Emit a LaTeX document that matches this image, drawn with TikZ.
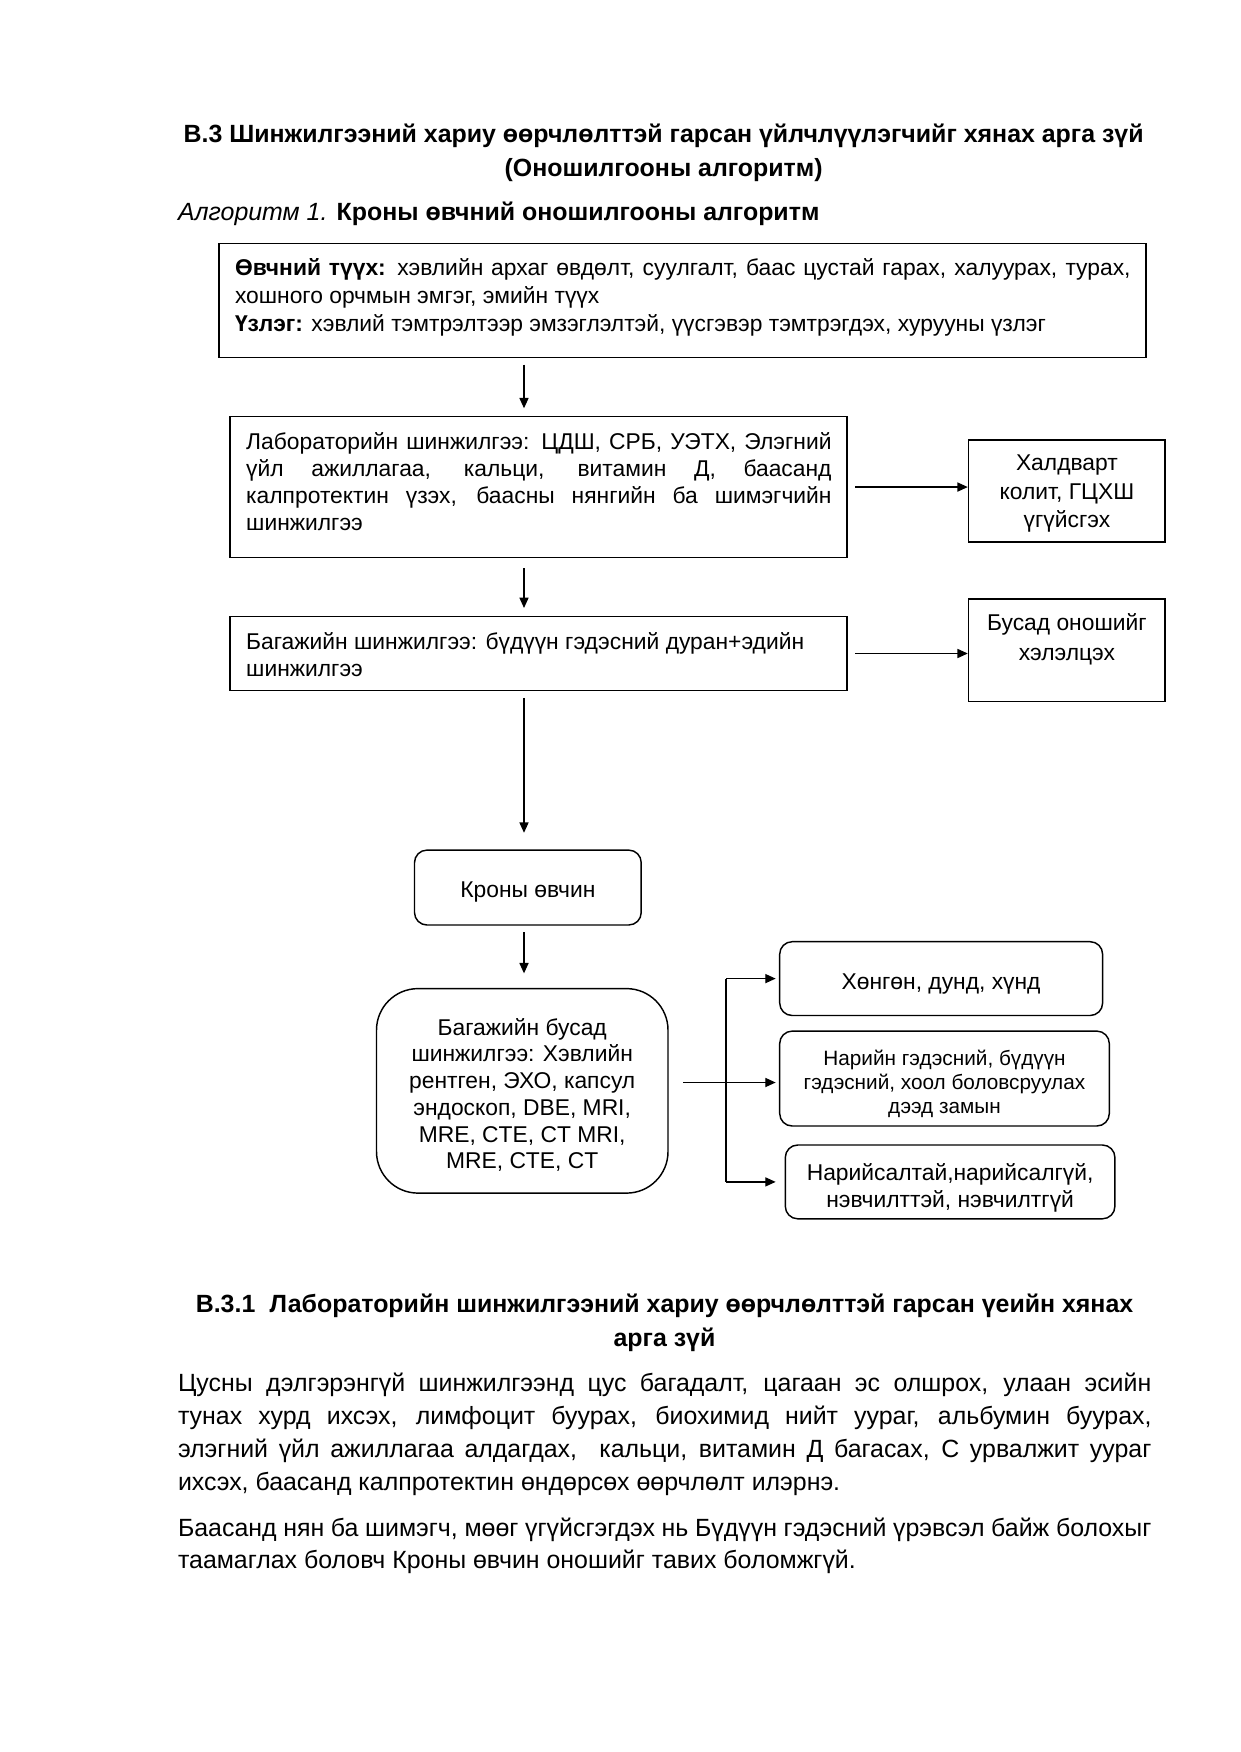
\documentclass[tikz,border=0pt]{standalone}
\usepackage{fontspec}
\setmainfont{Liberation Sans}
\usetikzlibrary{arrows.meta,fit}
\hyphenpenalty=10000
\exhyphenpenalty=10000
\tolerance=10000
\hbadness=10000
\begin{document}
\begin{tikzpicture}[x=0.4818pt,y=-0.4818pt,
  box/.style={draw,line width=0.7pt,inner sep=0pt},
  rbox/.style={box,rounded corners=6pt},
  bigrbox/.style={box,rounded corners=20pt},
  txt/.style={inner sep=0pt,yshift=-1.2pt},
  arr/.style={line width=0.6pt,-{Triangle[length=5pt,width=4.4pt]}},
  ln/.style={line width=0.6pt},
  f11/.style={font=\fontsize{11pt}{12.9pt}\selectfont},
  f12/.style={font=\fontsize{12pt}{15.8pt}\selectfont}]
\useasboundingbox[fill=white] (0,0) rectangle (1240,1752);

% headings
\node[txt,align=center,font=\bfseries\fontsize{12pt}{16.7pt}\selectfont] (title) at (663.6,150.2)
  {B.3 Шинжилгээний хариу өөрчлөлттэй гарсан үйлчлүүлэгчийг хянах арга зүй\\(Оношилгооны алгоритм)};
\node[txt,anchor=west,font=\fontsize{12pt}{14pt}\selectfont] (alg) at (177.6,211)
  {\textit{Алгоритм 1.} \textbf{Кроны өвчний оношилгооны алгоритм}};

% box 1
\node[box,fit={(219,243.5) (1146.2,357.5)}] (b1) {};
\node[txt,anchor=west,text width=431.5pt,align=justify,font=\fontsize{11pt}{13.45pt}\selectfont] (t1) at (234.6,295)
  {\textbf{Өвчний түүх:} хэвлийн архаг өвдөлт, суулгалт, баас цустай гарах, халуурах, турах,\linebreak
   хошного орчмын эмгэг, эмийн түүх\\
   \textbf{Үзлэг:} хэвлий тэмтрэлтээр эмзэглэлтэй, үүсгэвэр тэмтрэгдэх, хурууны үзлэг};

% lab box
\node[box,fit={(230,416.7) (846.8,557.4)}] (lab) {};
\node[txt,anchor=west,text width=282pt,align=justify,f11] (t2) at (245.8,479.2)
  {Лабораторийн шинжилгээ: ЦДШ, СРБ, УЭТХ, Элэгний\linebreak
   үйл ажиллагаа, кальци, витамин Д, баасанд\linebreak
   калпротектин үзэх, баасны нянгийн ба шимэгчийн\linebreak
   шинжилгээ};

\node[box,fit={(968.5,440.1) (1165.2,541.8)}] (hal) {};
\node[txt,align=center,font=\fontsize{11pt}{13.7pt}\selectfont] (t3) at (1066.9,491.2)
  {Халдварт\\колит, ГЦХШ\\үгүйсгэх};

% instrument box
\node[box,fit={(230,616.6) (846.8,690.4)}] (bag) {};
\node[txt,anchor=west,align=left,f11] (t4) at (245.8,652.4)
  {Багажийн шинжилгээ: бүдүүн гэдэсний дуран+эдийн\\шинжилгээ};

\node[box,fit={(968.5,598.8) (1165.2,701.5)}] (bus) {};
\node[txt,align=center,font=\fontsize{11pt}{14pt}\selectfont] (t5) at (1066.9,636.8)
  {Бусад оношийг\\хэлэлцэх};

% Crohn
\node[rbox,fit={(414.5,850.1) (641.2,925)}] (kr) {};
\node[txt,f11] (t6) at (527.9,889.2) {Кроны өвчин};

\node[bigrbox,fit={(376.5,988.6) (668,1193.1)}] (bb) {};
\node[txt,align=center,f11] (t7) at (522.2,1092.5)
  {Багажийн бусад\\шинжилгээ: Хэвлийн\\рентген, ЭХО, капсул\\эндоскоп, DBE, MRI,\\MRE, CTE, CT MRI,\\MRE, CTE, CT};

\node[rbox,fit={(779.7,941.7) (1102.6,1015.5)}] (hon) {};
\node[txt,f11] (t8) at (941.1,981.5) {Хөнгөн, дунд, хүнд};

\node[rbox,fit={(779.7,1031.1) (1109.3,1126)}] (nar) {};
\node[txt,align=center,font=\fontsize{10pt}{11.6pt}\selectfont] (t9) at (944.5,1081)
  {Нарийн гэдэсний, бүдүүн\\гэдэсний, хоол боловсруулах\\дээд замын};

\node[rbox,fit={(785.3,1145) (1114.9,1218.8)}] (nrs) {};
\node[txt,align=center,f11] (t10) at (950.1,1185.3)
  {Нарийсалтай,нарийсалгүй,\\нэвчилттэй, нэвчилтгүй};

% connectors
\coordinate (ax) at (524,0);
\draw[arr,shorten <=3.1pt,shorten >=3.7pt] (b1.south -| ax) -- (lab.north -| ax);
\draw[arr,shorten <=4.9pt,shorten >=3.8pt] (lab.south -| ax) -- (bag.north -| ax);
\draw[arr,shorten <=3.2pt,shorten >=8pt] (bag.south -| ax) -- (kr.north -| ax);
\draw[arr,shorten <=3.2pt,shorten >=7pt] (kr.south -| ax) -- (bb.north -| ax);
\draw[arr,shorten <=3.8pt] (lab.east) -- (lab.east -| hal.west);
\draw[arr,shorten <=3.8pt] (bag.east) -- (bag.east -| bus.west);

\coordinate (j) at (726.1,1082.5);
\draw[ln,shorten <=7pt] (bb.east |- j) -- (j);
\draw[ln] (j |- hon.west) -- (j |- nrs.west);
\draw[arr,shorten >=1.6pt] (j |- hon.west) -- (hon.west);
\draw[arr,shorten >=1.6pt] (j) -- (j -| nar.west);
\draw[arr,shorten >=4.3pt] (j |- nrs.west) -- (nrs.west);

% section B.3.1
\node[txt,align=center,font=\bfseries\fontsize{12pt}{16.1pt}\selectfont] (h2) at (664.5,1320.5)
  {B.3.1\hspace{0.3em} Лабораторийн шинжилгээний хариу өөрчлөлттэй гарсан үеийн хянах\\арга зүй};
\node[txt,anchor=west,text width=469pt,align=justify,f12] (p1) at (177.6,1431.9)
  {Цусны дэлгэрэнгүй шинжилгээнд цус багадалт, цагаан эс олшрох, улаан эсийн\linebreak
   тунах хурд ихсэх, лимфоцит буурах, биохимид нийт уураг, альбумин буурах,\linebreak
   элэгний үйл ажиллагаа алдагдах, \ кальци, витамин Д багасах, С урвалжит уураг\linebreak
   ихсэх, баасанд калпротектин өндөрсөх өөрчлөлт илэрнэ.};
\node[txt,anchor=west,text width=469pt,align=justify,f12] (p2) at (177.6,1543.3)
  {Баасанд нян ба шимэгч, мөөг үгүйсгэгдэх нь Бүдүүн гэдэсний үрэвсэл байж болохыг\linebreak
   таамаглах боловч Кроны өвчин оношийг тавих боломжгүй.};
\end{tikzpicture}
\end{document}
